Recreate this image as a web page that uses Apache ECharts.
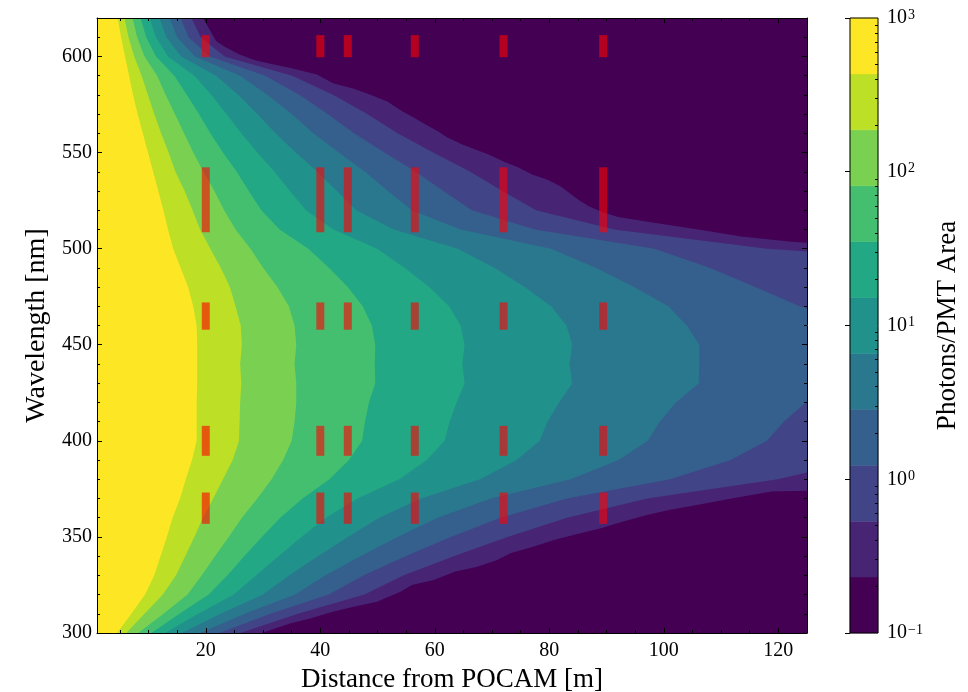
<!DOCTYPE html>
<html><head><meta charset="utf-8">
<script src="https://cdn.jsdelivr.net/npm/echarts@6/dist/echarts.min.js"></script>
<style>html,body{margin:0;padding:0;background:#fff}#c{width:968px;height:692px}</style>
</head><body><div id="c"></div>
<script>
// ---------------- data ----------------
const xTicks = [20, 40, 60, 80, 100, 120];
const xMinorTicks = [5,10,15,25,30,35,45,50,55,65,70,75,85,90,95,105,110,115];
const yTicks = [300, 350, 400, 450, 500, 550, 600];
const yMinorTicks = [310,320,330,340,360,370,380,390,410,420,430,440,460,470,480,490,510,520,530,540,560,570,580,590,610];
// colour levels (Photons/PMT Area)
const levels = [0.1, 0.231, 0.534, 1.233, 2.848, 6.579, 15.2, 35.11, 81.11, 187.4, 432.9, 1000];
const levelColors = ['#440154','#482475','#414487','#355f8d','#2a788e','#21918c','#22a884','#44bf70','#7ad151','#bddf26','#fde725'];
const cbTickValues = [0.1, 1, 10, 100, 1000];
const cbMinorValues = [0.2,0.3,0.4,0.5,0.6,0.7,0.8,0.9,2,3,4,5,6,7,8,9,20,30,40,50,60,70,80,90,200,300,400,500,600,700,800,900];

// wavelength rows [nm] at which the level boundaries were read
const rows = [620,610,600,590,580,570,560,550,540,530,520,510,500,490,480,470,460,450,440,430,420,410,400,390,380,370,360,350,340,330,320,310,300];
// distance [m] of each level boundary at those rows (b1 = innermost, yellow edge)
const b1d = [4.6,5.2,5.9,6.6,7.3,8.1,9.0,9.9,10.8,11.7,12.6,13.4,14.3,15.6,16.9,17.8,18.4,18.5,18.5,18.5,18.4,18.4,18.4,17.6,16.5,15.5,14.2,13.2,12.1,11.0,9.4,7.0,4.5];
const b2d = [5.8,6.5,7.5,8.8,9.9,11.0,12.2,13.5,14.7,16.3,17.7,19.0,20.8,22.6,24.2,25.2,26.1,26.3,26.0,26.2,26.0,25.9,25.8,24.7,23.0,21.3,19.5,18.0,16.4,14.8,12.5,9.3,6.1];
const b3d = [7.2,8.0,9.3,11.5,13.0,14.6,16.2,17.8,19.6,21.5,23.2,25.2,27.8,30.0,32.5,34.5,35.5,35.8,35.5,35.8,35.8,35.5,35.0,33.5,31.5,29.0,26.3,24.0,21.6,19.3,16.8,12.6,8.2];
const b4d = [8.6,9.6,11.3,14.5,16.7,18.8,20.8,23.0,25.4,27.5,29.7,32.9,37.9,41.5,44.8,47.4,49.0,49.6,49.5,49.6,48.5,47.8,47.3,45.0,41.6,36.9,33.0,29.8,26.7,23.8,20.5,15.4,10.5];
const b5d = [10.2,11.3,13.4,18.0,21.0,23.6,26.2,29.0,32.0,34.7,37.5,42.3,49.9,54.7,59.0,62.5,64.5,65.2,64.8,65.2,63.8,62.6,61.7,58.6,53.8,46.5,41.0,36.7,32.7,28.8,24.9,18.7,12.9];
const b6d = [11.9,13.1,15.7,21.8,25.7,29.0,32.2,35.7,39.5,42.9,46.3,52.8,64.0,70.4,75.7,80.3,83.0,84.0,83.5,84.0,81.7,79.7,78.3,74.3,67.9,57.6,50.3,44.8,39.6,34.6,30.0,22.6,15.8];
const b7d = [13.7,15.0,18.1,26.0,30.8,35.0,38.8,43.2,47.8,51.8,56.0,64.5,80.3,88.1,94.8,100.8,104.0,106.2,106.2,106.1,102.1,99.3,97.2,92.1,83.7,69.8,60.5,53.5,47.0,40.9,35.6,26.8,19.0];
// outer boundaries leave the plot on the right: [distance, wavelength] points
const b8 = [[15.6,620],[17.0,610],[20.7,600],[30.4,590],[36.4,580],[41.3,570],[45.9,560],[51.2,550],[56.7,540],[61.5,530],[66.5,520],[77.5,510],[98.4,500],[108,490],[116,480],[123.7,470],[125,469],
            [125,420.5],[121,410],[118,400],[111.7,390],[101.1,380],[83.1,370],[71.5,360],[62.8,350],[54.9,340],[47.6,330],[41.5,320],[31.3,310],[22.4,300]];
const b9 = [[17.5,620],[19.1,610],[23.3,600],[35.1,590],[42.3,580],[48.2,570],[53.5,560],[59.7,550],[66.2,540],[71.8,530],[77.7,520],[91.3,510],[118,500],[125,498.5],
            [125,383.5],[119.9,380],[97.1,370],[83.1,360],[72.7,350],[63.3,340],[54.6,330],[47.7,320],[36.1,310],[26.0,300]];
const b10 = [[19.5,620],[21.8,608],[23.3,605],[25.9,601],[28.6,598],[31.7,596],[34.8,594],[39.4,590.6],[42.2,586],[45.7,583.3],[48.2,580.7],[51.7,576.5],[54,572],[56.3,568.2],[58.4,564.6],[60.6,561],[62.2,557.8],[64.8,554.2],[67.1,551.6],[69.4,549],[72,545.3],[74.6,542.2],[77.1,538.5],[79.7,535.9],[82,532.3],[83.4,529.2],[85,525.5],[86.9,522],[89,519.3],[92,516.5],[98.3,513.5],[106,510],[113.5,506.3],[122.3,503.6],[125,503],
             [125,374],[118.8,373.6],[112.3,370.3],[106,366.7],[100.9,364],[97.2,361.5],[92.3,357.5],[89,354.5],[84.9,351.5],[80.8,348.4],[77.3,345],[73.2,341.5],[70.9,338],[67.4,334.5],[63.6,332],[59.8,327.6],[56,325],[54,321.5],[49.9,316.3],[45.8,313.7],[42.2,311],[38.2,307.6],[34.7,305],[29.8,300]];

// detector marker positions
const markerDistances = [20, 40, 44.8, 56.5, 72, 89.4];
const markerBands = [[599.6, 611.1], [508.5, 542.3], [457.8, 472.0], [392.2, 407.8], [356.8, 373.1]];

// ---------------- chart ----------------
const X_MIN = 1, X_MAX = 125, Y_MIN = 300, Y_MAX = 620;
const F = "'Liberation Serif', 'Times New Roman', serif";
const toPts = d => rows.map((w, i) => [d[i], w]);
// outermost first, so inner levels are painted on top
const boundaries = [b10, b9, b8, toPts(b7d), toPts(b6d), toPts(b5d), toPts(b4d), toPts(b3d), toPts(b2d), toPts(b1d)];

const markerData = [];
markerDistances.forEach(d => markerBands.forEach(b => markerData.push([d, b[0], b[1]])));

const black = {color: '#000', width: 1};
const TITLE = {color: '#000', fontFamily: F, fontSize: 27};
function xAx(pos, major) {
  return {
    type: 'value', gridIndex: 0, min: X_MIN, max: X_MAX, position: pos, z: 10,
    axisLine: {show: major, onZero: false, lineStyle: black},
    axisTick: {show: true, inside: true, length: major ? 5 : 3, customValues: major ? xTicks : xMinorTicks, lineStyle: black},
    axisLabel: {show: major && pos === 'bottom', customValues: xTicks, color: '#000', fontFamily: F, fontSize: 20, margin: 8},
    splitLine: {show: false},
    name: (major && pos === 'bottom') ? 'Distance from POCAM [m]' : '',
    nameLocation: 'middle', nameGap: 33,
    nameTextStyle: TITLE
  };
}
function yAx(pos, major) {
  return {
    type: 'value', gridIndex: 0, min: Y_MIN, max: Y_MAX, position: pos, z: 10,
    axisLine: {show: major, onZero: false, lineStyle: black},
    axisTick: {show: true, inside: true, length: major ? 5 : 3, customValues: major ? yTicks : yMinorTicks, lineStyle: black},
    axisLabel: {show: major && pos === 'left', customValues: yTicks, color: '#000', fontFamily: F, fontSize: 20, margin: 5},
    splitLine: {show: false},
    name: (major && pos === 'left') ? 'Wavelength [nm]' : '',
    nameLocation: 'middle', nameGap: 45, nameRotate: 90,
    nameTextStyle: {color: '#000', fontFamily: F, fontSize: 28}
  };
}
const supMap = {'-1': '−1', '0': '0', '1': '1', '2': '2', '3': '3'};

const option = {
  animation: false,
  backgroundColor: '#fff',
  grid: [
    {left: 97, top: 18, width: 710, height: 615, show: true, backgroundColor: levelColors[0], borderWidth: 0,
     containLabel: false, outerBoundsMode: 'none'},
    {left: 850, top: 18, width: 28, height: 615, show: false, containLabel: false, outerBoundsMode: 'none'}
  ],
  xAxis: [
    xAx('bottom', true), xAx('bottom', false), xAx('top', true), xAx('top', false),
    {type: 'value', gridIndex: 1, min: 0, max: 1, show: false}
  ],
  yAxis: [
    yAx('left', true), yAx('left', false), yAx('right', true), yAx('right', false),
    {
      type: 'log', logBase: 10, gridIndex: 1, min: 0.1, max: 1000, position: 'right', z: 10,
      axisLine: {show: false},
      axisTick: {show: true, inside: true, length: 5, customValues: cbTickValues, lineStyle: black},
      axisLabel: {
        show: true, customValues: cbTickValues, margin: 9, color: '#000', fontFamily: F, fontSize: 20,
        formatter: v => '{b|10}{s|' + supMap[String(Math.round(Math.log10(v)))] + '}',
        rich: {b: {fontFamily: F, fontSize: 20, color: '#000'}, s: {fontFamily: F, fontSize: 14, color: '#000', verticalAlign: 'top', padding: [0, 0, 0, 1]}}
      },
      splitLine: {show: false},
      name: 'Photons/PMT Area', nameLocation: 'middle', nameGap: 56, nameRotate: 90,
      nameTextStyle: TITLE
    },
    {
      type: 'log', logBase: 10, gridIndex: 1, min: 0.1, max: 1000, position: 'right', z: 10,
      axisLine: {show: false},
      axisTick: {show: true, inside: true, length: 3, customValues: cbMinorValues, lineStyle: black},
      axisLabel: {show: false}, splitLine: {show: false}
    }
  ],
  series: [
    {
      type: 'custom', xAxisIndex: 0, yAxisIndex: 0, clip: true, z: 2,
      data: boundaries.map((b, i) => [X_MIN, Y_MIN, i]),
      renderItem: (params, api) => {
        const i = params.dataIndex;
        const pts = boundaries[i].map(p => api.coord(p));
        pts.push(api.coord([X_MIN, Y_MIN]));
        pts.push(api.coord([X_MIN, Y_MAX]));
        return {type: 'polygon', shape: {points: pts}, style: {fill: levelColors[i + 1], stroke: null}};
      }
    },
    {
      type: 'custom', xAxisIndex: 0, yAxisIndex: 0, clip: true, z: 3,
      data: markerData,
      renderItem: (params, api) => {
        const top = api.coord([api.value(0), api.value(2)]);
        const bot = api.coord([api.value(0), api.value(1)]);
        return {type: 'rect', shape: {x: top[0] - 4, y: top[1], width: 8, height: bot[1] - top[1]},
                style: {fill: 'rgba(255,0,0,0.6)'}};
      }
    },
    {
      type: 'custom', xAxisIndex: 4, yAxisIndex: 4, z: 2,
      data: [[0, 1]],
      renderItem: (params, api) => {
        const children = [];
        for (let i = 0; i < levelColors.length; i++) {
          const a = api.coord([0, levels[i + 1]]);
          const b = api.coord([1, levels[i]]);
          children.push({type: 'rect', shape: {x: a[0], y: a[1], width: b[0] - a[0], height: b[1] - a[1]},
                         style: {fill: levelColors[i], stroke: levelColors[i], lineWidth: 0.5}});
        }
        const t = api.coord([0, levels[levels.length - 1]]);
        const u = api.coord([1, levels[0]]);
        children.push({type: 'rect', z2: 10, shape: {x: t[0], y: t[1], width: u[0] - t[0], height: u[1] - t[1]},
                       style: {fill: null, stroke: '#000', lineWidth: 1}});
        return {type: 'group', children};
      }
    }
  ]
};
const chart = echarts.init(document.getElementById('c'), null, {renderer: 'canvas', width: 968, height: 692});
chart.setOption(option);
</script>
</body></html>
